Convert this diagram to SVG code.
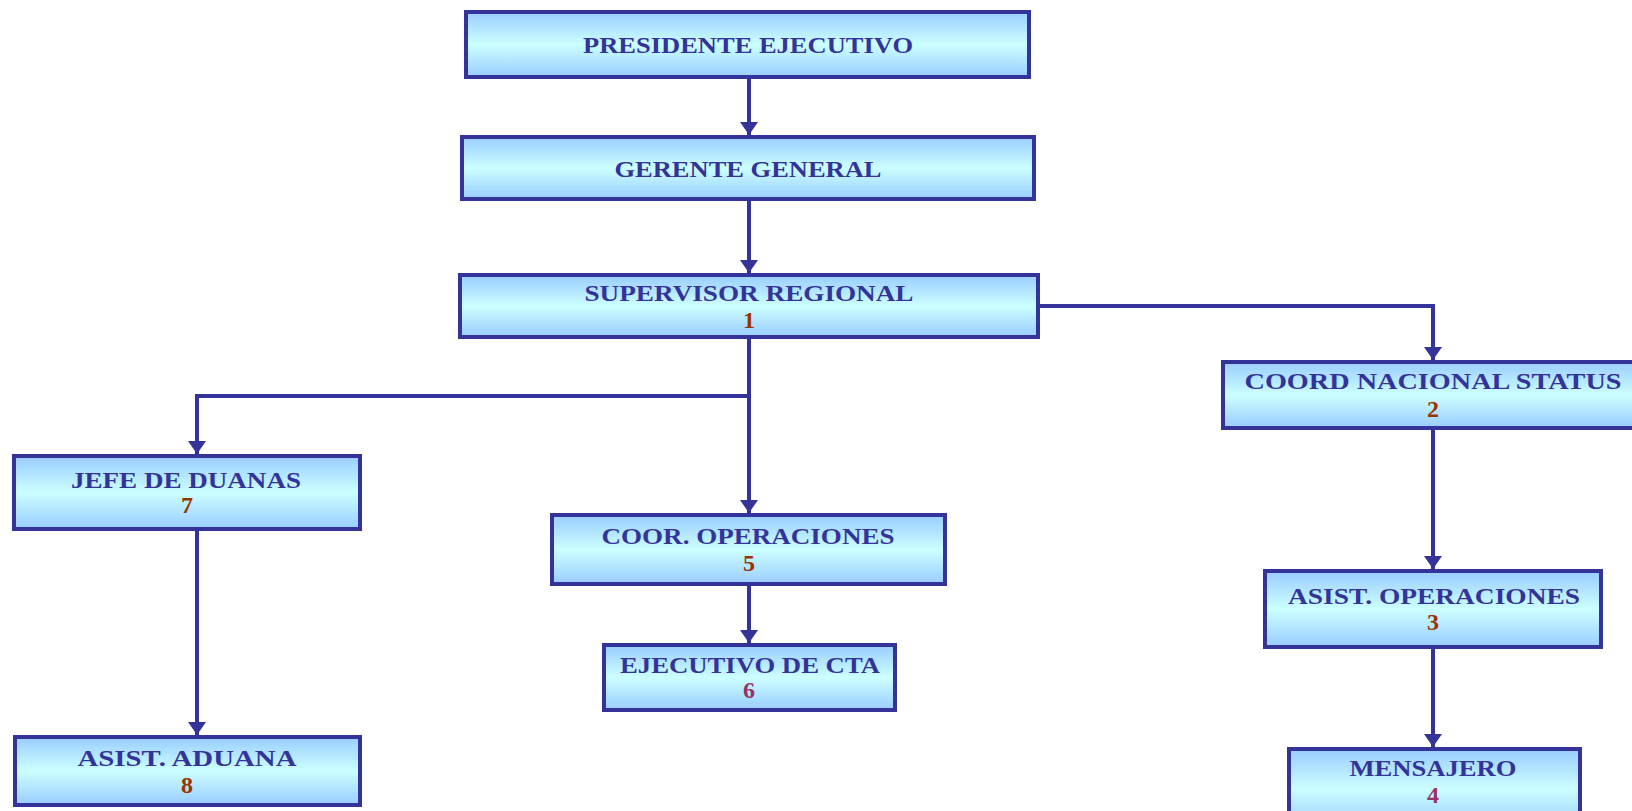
<svg xmlns="http://www.w3.org/2000/svg" width="1632" height="811" viewBox="0 0 1632 811">
  <defs>
    <linearGradient id="boxFill" x1="0" y1="0" x2="0" y2="1">
      <stop offset="0" stop-color="#99ccff"/>
      <stop offset="0.5" stop-color="#ccffff"/>
      <stop offset="1" stop-color="#99ccff"/>
    </linearGradient>
    <marker id="arrow" viewBox="0 0 13 18" refX="13" refY="9" markerWidth="13" markerHeight="18" markerUnits="userSpaceOnUse" orient="auto">
      <path d="M0,0 L13,9 L0,18 Z" fill="#333399"/>
    </marker>
    <style>
      .box { fill: url(#boxFill); stroke: #333399; stroke-width: 4; }
      .title { font-family: "Liberation Serif", "DejaVu Serif", serif; font-weight: bold; font-size: 24px; fill: #333399; text-anchor: middle; }
      .num { font-family: "Liberation Serif", "DejaVu Serif", serif; font-weight: bold; font-size: 24px; text-anchor: middle; }
      .brown { fill: #993300; }
      .plum { fill: #993366; }
      .link { fill: none; stroke: #333399; stroke-width: 4; }
      .arrowed { marker-end: url(#arrow); }
    </style>
  </defs>

  <rect width="1632" height="811" fill="#ffffff"/>

  <!-- connectors -->
  <g id="connectors">
    <line class="link arrowed" x1="749" y1="79" x2="749" y2="135"/>
    <line class="link arrowed" x1="749" y1="201" x2="749" y2="273"/>
    <line class="link arrowed" x1="749" y1="339" x2="749" y2="513"/>
    <polyline class="link arrowed" points="749,396 197,396 197,454"/>
    <polyline class="link arrowed" points="1040,306 1433,306 1433,360"/>
    <line class="link arrowed" x1="197" y1="531" x2="197" y2="735"/>
    <line class="link arrowed" x1="749" y1="586" x2="749" y2="643"/>
    <line class="link arrowed" x1="1433" y1="430" x2="1433" y2="569"/>
    <line class="link arrowed" x1="1433" y1="649" x2="1433" y2="747"/>
  </g>

  <g id="presidente">
    <rect class="box" x="466" y="12" width="563" height="65"/>
    <text class="title" x="748" y="53" textLength="330" lengthAdjust="spacingAndGlyphs">PRESIDENTE EJECUTIVO</text>
  </g>

  <g id="gerente">
    <rect class="box" x="462" y="137" width="572" height="62"/>
    <text class="title" x="748" y="177" textLength="267" lengthAdjust="spacingAndGlyphs">GERENTE GENERAL</text>
  </g>

  <g id="supervisor">
    <rect class="box" x="460" y="275" width="578" height="62"/>
    <text class="title" x="749" y="301" textLength="329" lengthAdjust="spacingAndGlyphs">SUPERVISOR REGIONAL</text>
    <text class="num brown" x="749" y="328">1</text>
  </g>

  <g id="coord-nacional">
    <rect class="box" x="1223" y="362" width="430" height="66"/>
    <text class="title" x="1433" y="389" textLength="377" lengthAdjust="spacingAndGlyphs">COORD NACIONAL STATUS</text>
    <text class="num brown" x="1433" y="417">2</text>
  </g>

  <g id="jefe-aduanas">
    <rect class="box" x="14" y="456" width="346" height="73"/>
    <text class="title" x="186" y="488" textLength="230" lengthAdjust="spacingAndGlyphs">JEFE DE DUANAS</text>
    <text class="num brown" x="187" y="513">7</text>
  </g>

  <g id="coor-operaciones">
    <rect class="box" x="552" y="515" width="393" height="69"/>
    <text class="title" x="748" y="544" textLength="293" lengthAdjust="spacingAndGlyphs">COOR. OPERACIONES</text>
    <text class="num brown" x="749" y="571">5</text>
  </g>

  <g id="ejecutivo-cta">
    <rect class="box" x="604" y="645" width="291" height="65"/>
    <text class="title" x="750" y="673" textLength="260" lengthAdjust="spacingAndGlyphs">EJECUTIVO DE CTA</text>
    <text class="num plum" x="749" y="698">6</text>
  </g>

  <g id="asist-aduana">
    <rect class="box" x="15" y="737" width="345" height="68"/>
    <text class="title" x="187" y="766" textLength="219" lengthAdjust="spacingAndGlyphs">ASIST. ADUANA</text>
    <text class="num brown" x="187" y="793">8</text>
  </g>

  <g id="asist-operaciones">
    <rect class="box" x="1265" y="571" width="336" height="76"/>
    <text class="title" x="1434" y="604" textLength="292" lengthAdjust="spacingAndGlyphs">ASIST. OPERACIONES</text>
    <text class="num brown" x="1433" y="630">3</text>
  </g>

  <g id="mensajero">
    <rect class="box" x="1289" y="749" width="291" height="80"/>
    <text class="title" x="1433" y="776" textLength="167" lengthAdjust="spacingAndGlyphs">MENSAJERO</text>
    <text class="num plum" x="1433" y="803">4</text>
  </g>
</svg>
